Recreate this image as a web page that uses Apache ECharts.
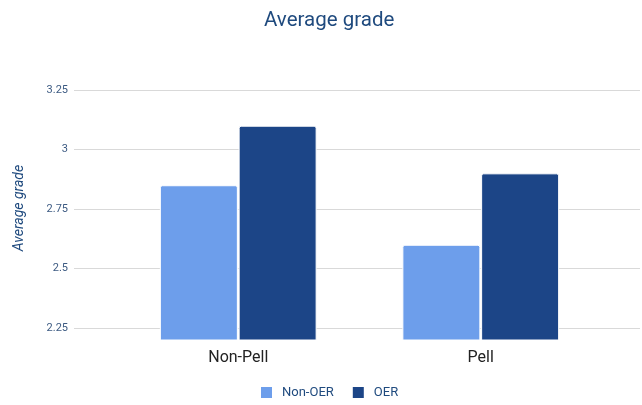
<!DOCTYPE html>
<html>
<head>
<meta charset="utf-8">
<script src="https://cdn.jsdelivr.net/npm/echarts@6/dist/echarts.min.js"></script>
<style>
  html, body { margin: 0; padding: 0; background: #fff; }
  #chart { width: 642px; height: 405px; }
</style>
</head>
<body>
<div id="chart"></div>
<script>
// data
const groups = ['Non-Pell', 'Pell']
const nonOer = [2.85, 2.6]
const oer = [3.1, 2.9]
const yTicks = [2.25, 2.5, 2.75, 3, 3.25]

const chart = echarts.init(document.getElementById('chart'))

const option = {
  animation: false,
  textStyle: { fontFamily: 'Roboto' },
  title: {
    text: 'Average grade',
    left: 259,
    top: 5,
    textStyle: { fontSize: 20.5, fontWeight: 'normal', color: '#1f4a7e' }
  },
  legend: {
    bottom: 0,
    left: 254,
    icon: 'rect',
    itemWidth: 13,
    itemHeight: 13,
    itemGap: 17,
    textStyle: { fontSize: 13, color: '#1f4a7e', padding: [0, 0, 0, 4] },
    data: ['Non-OER', 'OER']
  },
  grid: [
    // wide grid: only carries the y axis and its grid lines
    { left: 74, right: 2, top: 90, bottom: 65 },
    // narrower grid for the two category bands
    { left: 117, right: 40, top: 90, bottom: 65 }
  ],
  xAxis: [
    { gridIndex: 0, type: 'value', show: false, min: 0, max: 1 },
    {
      gridIndex: 1,
      type: 'category',
      data: groups,
      axisLine: { show: false },
      axisTick: { show: false },
      axisLabel: { fontSize: 16, color: '#222', margin: 10 }
    }
  ],
  yAxis: [
    {
      gridIndex: 0,
      type: 'value',
      min: 2.2,
      max: 3.25,
      name: 'Average grade',
      nameLocation: 'middle',
      nameGap: 48,
      nameTextStyle: { fontSize: 14, fontStyle: 'italic', color: '#1f4a7e', padding: [0, 0, 0, 14] },
      axisLine: { show: false },
      axisTick: { show: false, customValues: yTicks },
      axisLabel: { customValues: yTicks, fontSize: 11, color: '#3c5a82', margin: 6 },
      splitLine: { lineStyle: { color: '#d9d9d9', width: 1 } }
    },
    {
      gridIndex: 1,
      type: 'value',
      min: 2.2,
      max: 3.25,
      show: false,
      splitLine: { show: false }
    }
  ],
  series: [
    {
      name: 'Non-OER',
      type: 'bar',
      xAxisIndex: 1,
      yAxisIndex: 1,
      data: nonOer,
      barWidth: 78,
      barGap: '1%',
      itemStyle: { color: '#6d9eeb', borderColor: '#fff', borderWidth: 1, borderRadius: [2, 2, 0, 0] }
    },
    {
      name: 'OER',
      type: 'bar',
      xAxisIndex: 1,
      yAxisIndex: 1,
      data: oer,
      barWidth: 78,
      itemStyle: { color: '#1c4587', borderColor: '#fff', borderWidth: 1, borderRadius: [2, 2, 0, 0] }
    }
  ]
}

chart.setOption(option)
</script>
</body>
</html>
